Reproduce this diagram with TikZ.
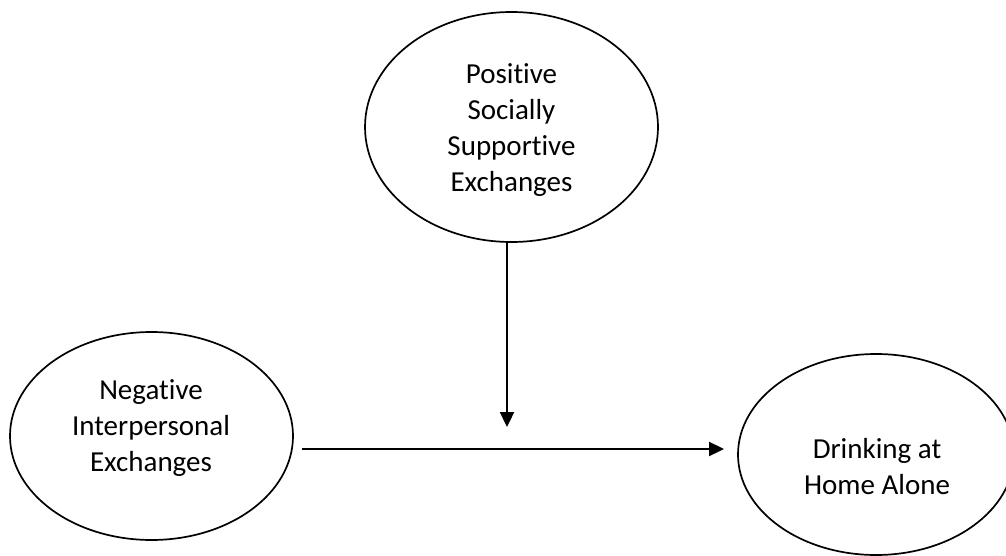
\documentclass[tikz,border=0pt]{standalone}
\usepackage{fontspec}
\setmainfont{Carlito}[Ligatures=NoCommon]
\usetikzlibrary{arrows.meta,shapes.geometric}
\begin{document}
\begin{tikzpicture}[x=1pt,y=-1pt,
  oval/.style={draw, ellipse, line width=1.7pt, inner sep=0pt},
  txt/.style={align=center, inner sep=0pt, font=\fontsize{29pt}{36pt}\selectfont},
  conn/.style={line width=2.3pt, -{Triangle[length=15pt,width=14pt]}}]
\useasboundingbox (0,0) rectangle (1006,556);
\node[oval, minimum width=293pt, minimum height=230pt] (pos) at (511.5,127) {};
\node[txt] (postxt) at (511.5,130) {Positive\\Socially\\Supportive\\Exchanges};
\node[oval, minimum width=283pt, minimum height=208pt] (neg) at (151.5,436) {};
\node[txt] (negtxt) at (151,428) {Negative\\Interpersonal\\Exchanges};
\node[oval, minimum width=276pt, minimum height=201pt] (drink) at (876,454.5) {};
\node[txt] (drinktxt) at (877,467) {Drinking at\\Home Alone};
\coordinate (hs) at (302,449);
\coordinate (he) at (724,449);
\coordinate (vt) at (507,427);
\draw[conn] (hs) -- (he);
\draw[conn] (pos.south -| vt) -- (vt);
\end{tikzpicture}
\end{document}
